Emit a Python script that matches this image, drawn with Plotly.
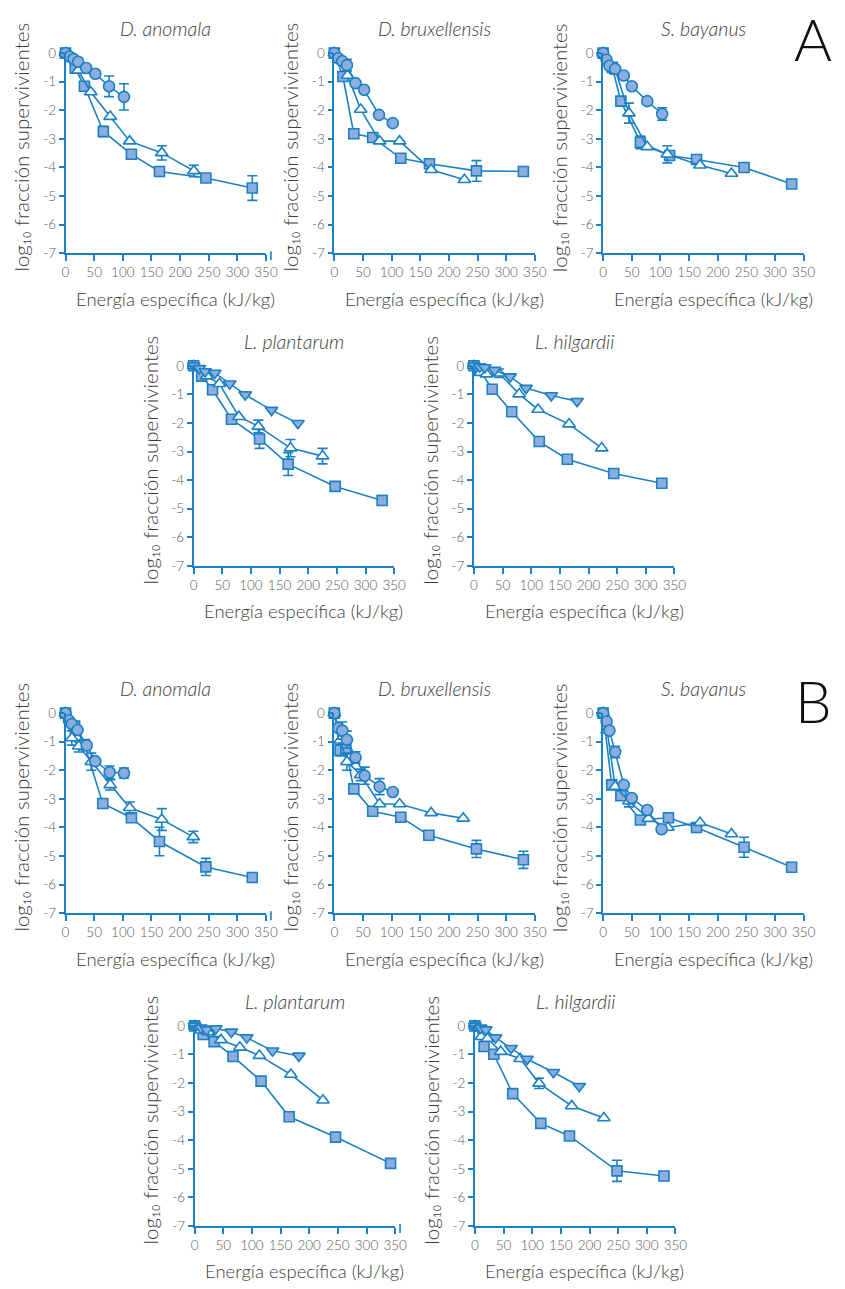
import plotly.graph_objects as go

# ---------------------------------------------------------------
# Survival curves: log10 surviving fraction vs specific energy
# ---------------------------------------------------------------

# ---- Set A -------------------------------------------------------
# D. anomala
A_anom_sq_x = [0, 17, 33, 66, 115, 164, 245, 326]
A_anom_sq_y = [0, -0.53, -1.16, -2.74, -3.54, -4.14, -4.37, -4.72]
A_anom_sq_e = [None, None, 0.12, 0.18, None, None, None, 0.43]
A_anom_tr_x = [0, 22, 44, 78, 112, 168, 224]
A_anom_tr_y = [0, -0.6, -1.36, -2.22, -3.08, -3.49, -4.12]
A_anom_tr_e = [None, None, None, None, None, 0.25, 0.2]
A_anom_ci_x = [0, 7, 14, 22, 36, 52, 76, 102]
A_anom_ci_y = [0, -0.12, -0.2, -0.3, -0.52, -0.72, -1.16, -1.53]
A_anom_ci_e = [None, None, None, None, None, None, 0.36, 0.46]

# D. bruxellensis
A_brux_sq_x = [0, 15, 34, 67, 116, 166, 248, 330]
A_brux_sq_y = [0, -0.82, -2.82, -2.95, -3.68, -3.87, -4.12, -4.14]
A_brux_sq_e = [None, None, None, None, None, None, 0.36, None]
A_brux_tr_x = [0, 23, 46, 79, 114, 169, 227]
A_brux_tr_y = [0, -0.78, -1.97, -3.08, -3.08, -4.08, -4.43]
A_brux_tr_e = [None] * 7
A_brux_ci_x = [0, 7, 14, 22, 37, 52, 78, 102]
A_brux_ci_y = [0, -0.18, -0.28, -0.42, -1.05, -1.28, -2.16, -2.45]
A_brux_ci_e = [None, None, None, 0.2, None, None, None, None]

# S. bayanus
A_baya_sq_x = [0, 16, 31, 65, 116, 163, 246, 329]
A_baya_sq_y = [0, -0.5, -1.68, -3.12, -3.58, -3.72, -4.0, -4.58]
A_baya_sq_e = [None, None, None, 0.22, None, None, None, 0.12]
A_baya_tr_x = [0, 22, 45, 77, 112, 169, 224]
A_baya_tr_y = [0, -0.63, -2.1, -3.28, -3.54, -3.92, -4.21]
A_baya_tr_e = [None, None, 0.35, None, 0.3, None, None]
A_baya_ci_x = [0, 6, 11, 21, 36, 50, 77, 103]
A_baya_ci_y = [0, -0.23, -0.44, -0.55, -0.78, -1.16, -1.68, -2.13]
A_baya_ci_e = [None, None, None, None, None, None, 0.1, 0.22]

# L. plantarum
A_plan_sq_x = [0, 14, 33, 66, 115, 165, 247, 329]
A_plan_sq_y = [0, -0.36, -0.84, -1.87, -2.56, -3.44, -4.22, -4.71]
A_plan_sq_e = [None, None, None, None, 0.33, 0.4, None, 0.17]
A_plan_tr_x = [0, 23, 45, 79, 113, 169, 225]
A_plan_tr_y = [0, -0.36, -0.63, -1.78, -2.12, -2.88, -3.16]
A_plan_tr_e = [None, None, None, None, 0.22, 0.3, 0.27]
A_plan_it_x = [0, 10, 20, 37, 63, 90, 136, 182]
A_plan_it_y = [0, -0.09, -0.2, -0.25, -0.63, -1.01, -1.55, -2.01]
A_plan_it_e = [None] * 8

# L. hilgardii
A_hilg_sq_x = [0, 10, 32, 66, 114, 163, 244, 328]
A_hilg_sq_y = [0, -0.15, -0.82, -1.61, -2.65, -3.27, -3.77, -4.11]
A_hilg_sq_e = [None, None, None, None, None, None, 0.1, None]
A_hilg_tr_x = [0, 11, 22, 44, 79, 112, 166, 223]
A_hilg_tr_y = [0, -0.24, -0.29, -0.26, -0.99, -1.53, -2.04, -2.88]
A_hilg_tr_e = [None, None, None, 0.15, None, None, None, None]
A_hilg_it_x = [0, 10, 19, 36, 63, 91, 135, 180]
A_hilg_it_y = [0, -0.03, -0.06, -0.15, -0.38, -0.78, -1.04, -1.24]
A_hilg_it_e = [None] * 8

# ---- Set B -------------------------------------------------------
# D. anomala
B_anom_sq_x = [0, 16, 33, 65, 115, 164, 245, 326]
B_anom_sq_y = [0, -0.45, -1.1, -3.16, -3.66, -4.49, -5.38, -5.75]
B_anom_sq_e = [None, None, None, None, None, 0.5, 0.3, None]
B_anom_tr_x = [0, 11, 23, 45, 78, 112, 168, 223]
B_anom_tr_y = [0, -0.87, -1.16, -1.7, -2.51, -3.31, -3.72, -4.33]
B_anom_tr_e = [None, 0.25, 0.2, 0.3, 0.18, 0.2, 0.38, 0.2]
B_anom_ci_x = [0, 6, 11, 21, 37, 52, 77, 102]
B_anom_ci_y = [0, -0.26, -0.38, -0.59, -1.13, -1.68, -2.07, -2.1]
B_anom_ci_e = [None, None, 0.1, None, None, None, 0.22, 0.18]

# D. bruxellensis
B_brux_sq_x = [0, 10, 20, 34, 67, 116, 165, 248, 330]
B_brux_sq_y = [0, -1.3, -1.25, -2.65, -3.43, -3.64, -4.27, -4.75, -5.13]
B_brux_sq_e = [None, 0.2, None, None, None, None, None, 0.3, 0.3]
B_brux_tr_x = [0, 10, 22, 46, 79, 114, 169, 225]
B_brux_tr_y = [0, -0.95, -1.7, -2.16, -3.18, -3.18, -3.49, -3.68]
B_brux_tr_e = [None, None, 0.3, 0.2, None, None, None, None]
B_brux_ci_x = [0, 7, 14, 22, 37, 53, 79, 102]
B_brux_ci_y = [0, -0.52, -0.61, -0.93, -1.55, -2.19, -2.57, -2.76]
B_brux_ci_e = [None, None, 0.3, 0.3, 0.2, 0.3, 0.28, None]

# S. bayanus
B_baya_sq_x = [0, 15, 31, 65, 114, 163, 246, 329]
B_baya_sq_y = [0, -2.51, -2.89, -3.74, -3.66, -4.0, -4.69, -5.39]
B_baya_sq_e = [None, None, None, None, None, None, 0.35, None]
B_baya_tr_x = [0, 7, 21, 45, 79, 113, 169, 224]
B_baya_tr_y = [0, -0.6, -2.57, -3.08, -3.69, -4.0, -3.83, -4.23]
B_baya_tr_e = [None, None, None, 0.2, None, None, None, None]
B_baya_ci_x = [0, 6, 11, 21, 36, 50, 77, 102]
B_baya_ci_y = [0, -0.29, -0.61, -1.36, -2.51, -2.97, -3.39, -4.06]
B_baya_ci_e = [None, None, None, 0.2, None, None, None, None]

# L. plantarum
B_plan_sq_x = [0, 15, 34, 67, 116, 165, 246, 342]
B_plan_sq_y = [0, -0.3, -0.55, -1.07, -1.93, -3.18, -3.89, -4.81]
B_plan_sq_e = [None] * 8
B_plan_tr_x = [0, 11, 24, 46, 79, 113, 168, 224]
B_plan_tr_y = [0, -0.15, -0.21, -0.49, -0.75, -1.04, -1.7, -2.6]
B_plan_tr_e = [None] * 8
B_plan_it_x = [0, 11, 21, 37, 64, 91, 136, 182]
B_plan_it_y = [0, -0.07, -0.13, -0.09, -0.21, -0.41, -0.87, -1.05]
B_plan_it_e = [None] * 8

# L. hilgardii
B_hilg_sq_x = [0, 16, 33, 66, 115, 165, 248, 330]
B_hilg_sq_y = [0, -0.72, -0.99, -2.37, -3.41, -3.85, -5.07, -5.25]
B_hilg_sq_e = [None, None, None, None, None, None, 0.37, None]
B_hilg_tr_x = [0, 11, 22, 45, 79, 112, 169, 225]
B_hilg_tr_y = [0, -0.38, -0.44, -0.9, -1.15, -2.01, -2.8, -3.22]
B_hilg_tr_e = [None, None, None, None, None, 0.18, None, None]
B_hilg_it_x = [0, 10, 19, 36, 63, 91, 137, 182]
B_hilg_it_y = [0, -0.07, -0.13, -0.41, -0.78, -1.16, -1.62, -2.11]
B_hilg_it_e = [None] * 8

# Axis ticks
x_ticks = [0, 50, 100, 150, 200, 250, 300, 350]
y_ticks = [0, -1, -2, -3, -4, -5, -6, -7]
y_ticklabels = ["0", "-1", "-2", "-3", "-4", "-5", "-6", "-7"]

# ---------------------------------------------------------------
W, H = 845, 1289
PW, PH = 204.4, 202.6          # plot area size in px
BLUE = "#1b80c4"
FILL = "#8cadde"
TICKGRAY = "#5a5a5a"
TEXTGRAY = "#3c3c3c"
FONT = "Lato, Liberation Sans, Arial, sans-serif"
WEIGHT = 300

def px_x(p):
    return p / W

def px_y(p):
    return 1 - p / H

# (left px, top px, title, [(kind, x, y, err), ...], extra end tick)
panels = [
    (62.7, 45.7, "D. anomala",
     [("sq", A_anom_sq_x, A_anom_sq_y, A_anom_sq_e),
      ("tr", A_anom_tr_x, A_anom_tr_y, A_anom_tr_e),
      ("ci", A_anom_ci_x, A_anom_ci_y, A_anom_ci_e)], True),
    (336.7, 45.7, "D. bruxellensis",
     [("sq", A_brux_sq_x, A_brux_sq_y, A_brux_sq_e),
      ("tr", A_brux_tr_x, A_brux_tr_y, A_brux_tr_e),
      ("ci", A_brux_ci_x, A_brux_ci_y, A_brux_ci_e)], False),
    (610.7, 45.7, "S. bayanus",
     [("sq", A_baya_sq_x, A_baya_sq_y, A_baya_sq_e),
      ("tr", A_baya_tr_x, A_baya_tr_y, A_baya_tr_e),
      ("ci", A_baya_ci_x, A_baya_ci_y, A_baya_ci_e)], False),
    (193.3, 362.3, "L. plantarum",
     [("sq", A_plan_sq_x, A_plan_sq_y, A_plan_sq_e),
      ("tr", A_plan_tr_x, A_plan_tr_y, A_plan_tr_e),
      ("it", A_plan_it_x, A_plan_it_y, A_plan_it_e)], False),
    (479.0, 362.3, "L. hilgardii",
     [("sq", A_hilg_sq_x, A_hilg_sq_y, A_hilg_sq_e),
      ("tr", A_hilg_tr_x, A_hilg_tr_y, A_hilg_tr_e),
      ("it", A_hilg_it_x, A_hilg_it_y, A_hilg_it_e)], False),
    (62.7, 714.0, "D. anomala",
     [("sq", B_anom_sq_x, B_anom_sq_y, B_anom_sq_e),
      ("tr", B_anom_tr_x, B_anom_tr_y, B_anom_tr_e),
      ("ci", B_anom_ci_x, B_anom_ci_y, B_anom_ci_e)], True),
    (336.7, 714.0, "D. bruxellensis",
     [("sq", B_brux_sq_x, B_brux_sq_y, B_brux_sq_e),
      ("tr", B_brux_tr_x, B_brux_tr_y, B_brux_tr_e),
      ("ci", B_brux_ci_x, B_brux_ci_y, B_brux_ci_e)], False),
    (610.7, 714.0, "S. bayanus",
     [("sq", B_baya_sq_x, B_baya_sq_y, B_baya_sq_e),
      ("tr", B_baya_tr_x, B_baya_tr_y, B_baya_tr_e),
      ("ci", B_baya_ci_x, B_baya_ci_y, B_baya_ci_e)], False),
    (194.3, 1030.7, "L. plantarum",
     [("sq", B_plan_sq_x, B_plan_sq_y, B_plan_sq_e),
      ("tr", B_plan_tr_x, B_plan_tr_y, B_plan_tr_e),
      ("it", B_plan_it_x, B_plan_it_y, B_plan_it_e)], True),
    (480.0, 1030.7, "L. hilgardii",
     [("sq", B_hilg_sq_x, B_hilg_sq_y, B_hilg_sq_e),
      ("tr", B_hilg_tr_x, B_hilg_tr_y, B_hilg_tr_e),
      ("it", B_hilg_it_x, B_hilg_it_y, B_hilg_it_e)], False),
]

MARKERS = {
    "sq": dict(symbol="square", size=10, color=FILL, line=dict(color=BLUE, width=1.6)),
    "ci": dict(symbol="circle", size=11, color=FILL, line=dict(color=BLUE, width=1.6)),
    "tr": dict(symbol="triangle-up", size=11, color="white", line=dict(color=BLUE, width=1.6)),
    "it": dict(symbol="triangle-down", size=11, color=FILL, line=dict(color=BLUE, width=1.6)),
}

def text_font(size, color, style="normal"):
    return dict(size=size, color=color, family=FONT, weight=WEIGHT, style=style)

fig = go.Figure()
annotations = []
shapes = []
layout = {}

for i, (left, top, title, series, end_tick) in enumerate(panels):
    n = "" if i == 0 else str(i + 1)
    xa, ya = "x" + n, "y" + n
    x_dom = [px_x(left), px_x(left + PW)]
    y_dom = [px_y(top + PH), px_y(top)]
    layout["xaxis" + n] = dict(
        domain=x_dom, anchor=ya, range=[0, 350], tickvals=x_ticks,
        showgrid=False, zeroline=False, showline=True, linecolor=BLUE, linewidth=1.6,
        ticks="outside", ticklen=6, tickwidth=1.6, tickcolor=BLUE,
        tickfont=text_font(13.5, TICKGRAY), fixedrange=True,
    )
    layout["yaxis" + n] = dict(
        domain=y_dom, anchor=xa, range=[-7, 0], tickvals=y_ticks, ticktext=y_ticklabels,
        showgrid=False, zeroline=False, showline=True, linecolor=BLUE, linewidth=1.6,
        ticks="outside", ticklen=5, tickwidth=1.6, tickcolor=BLUE,
        tickfont=text_font(13.5, TICKGRAY), fixedrange=True,
    )
    for kind, xs, ys, es in series:
        fig.add_trace(go.Scatter(
            x=xs, y=ys, xaxis=xa, yaxis=ya, mode="lines+markers",
            line=dict(color=BLUE, width=1.6), marker=MARKERS[kind],
            error_y=dict(type="data", array=es, visible=True, color=BLUE,
                         thickness=1.6, width=5),
            cliponaxis=False, showlegend=False, hoverinfo="skip",
        ))
    # panel title (species name, italic)
    annotations.append(dict(
        text=title, xref="paper", yref="paper",
        x=px_x(left + PW / 2), y=px_y(top - 25), xanchor="center", yanchor="middle",
        showarrow=False, font=text_font(19.5, TEXTGRAY, "italic"),
    ))
    # y-axis title
    annotations.append(dict(
        text="log\u2081\u2080 fracción supervivientes", xref="paper", yref="paper",
        x=px_x(left - 45), y=px_y(top + PH / 2 - 6), xanchor="center", yanchor="middle",
        textangle=-90, showarrow=False, font=text_font(20.5, TEXTGRAY),
    ))
    # x-axis title
    annotations.append(dict(
        text="Energía específica (kJ/kg)", xref="paper", yref="paper",
        x=px_x(left + PW / 2 + 10), y=px_y(top + PH + 46), xanchor="center", yanchor="middle",
        showarrow=False, font=text_font(18.5, TEXTGRAY),
    ))
    if end_tick:
        ex = left + PW + 5
        shapes.append(dict(
            type="line", xref="paper", yref="paper",
            x0=px_x(ex), x1=px_x(ex), y0=px_y(top + PH - 2), y1=px_y(top + PH + 7),
            line=dict(color=BLUE, width=1.6),
        ))

# panel letters
for letter, cy in (("A", 31), ("B", 701)):
    annotations.append(dict(
        text=letter, xref="paper", yref="paper", x=px_x(825), y=px_y(cy),
        xanchor="center", yanchor="middle", showarrow=False,
        font=text_font(58, "#111111"),
    ))

fig.update_layout(
    width=W, height=H, margin=dict(l=0, r=0, t=0, b=0),
    paper_bgcolor="white", plot_bgcolor="white",
    annotations=annotations, shapes=shapes, showlegend=False,
    **layout,
)

fig.write_html("out.html", config={"displayModeBar": False})
